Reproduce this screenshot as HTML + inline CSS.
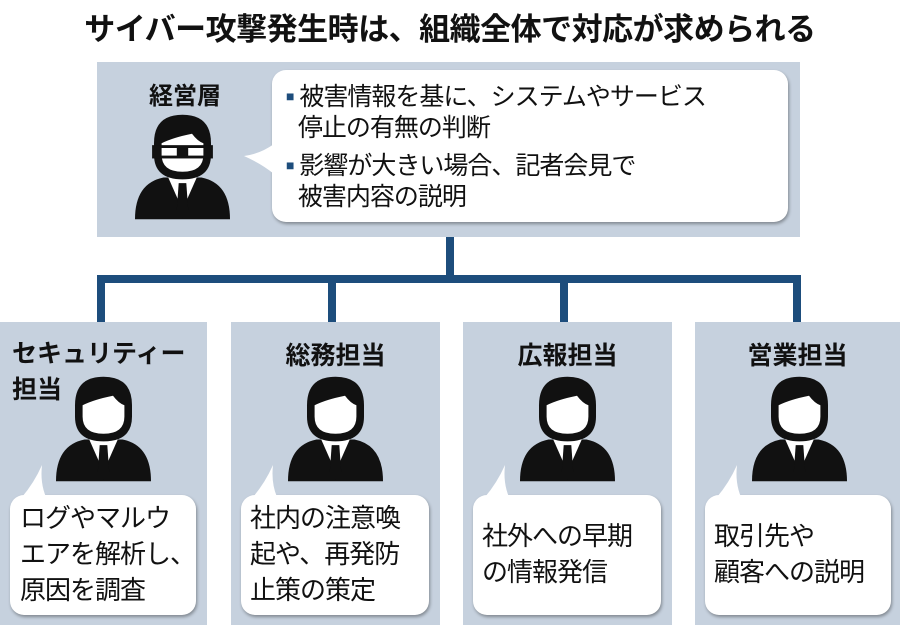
<!DOCTYPE html>
<html><head><meta charset="utf-8"><style>
*{margin:0;padding:0;box-sizing:border-box}
body{width:900px;height:625px;background:#fff;position:relative;overflow:hidden;font-family:"Liberation Sans","Noto Sans CJK JP",sans-serif;color:#111}
.abs{position:absolute}
.box{position:absolute;background:#c6d1de}
.title{left:0;width:900px;top:4px;text-align:center;font-size:31px;font-weight:bold;letter-spacing:-0.5px}
.lbl{position:absolute;font-size:24px;font-weight:bold;text-align:center}
.bub{position:absolute;background:#fff;border-radius:14px;box-shadow:1px 2px 3px rgba(0,0,0,.35)}
.bt{position:absolute;font-size:26px;line-height:36px;white-space:nowrap;letter-spacing:-1px}
.ln{position:absolute;background:#1d4d7c}
</style></head><body>
<svg width="0" height="0" style="position:absolute">
<defs>
<g id="p">
<path d="M0 110 Q0 72 30 66 L70 66 Q100 72 100 110 Z" fill="#111"/>
<path d="M35 66 L50 100 L65 66 Z" fill="#fff"/>
<path d="M46 72 L54 72 L56 100 L50 108 L44 100 Z" fill="#111"/>
<path d="M20 30 Q20 0 50 0 Q80 0 80 30 L80 42 Q80 68 50 68 Q20 68 20 42 Z" fill="#111"/>
<path d="M28 30 Q40 24 60 20 Q66 28 72 30 L72 42 Q72 60 50 60 Q28 60 28 42 Z" fill="#fff"/>
</g>
</defs></svg>
<div class="abs title">サイバー攻撃発生時は、組織全体で対応が求められる</div>

<div class="box" style="left:97px;top:62px;width:703px;height:175px"></div>
<div class="lbl" style="left:130px;top:76px;width:110px">経営層</div>
<svg class="abs" style="left:135px;top:112px" width="95" height="110" viewBox="0 0 100 110">
<path d="M0 110 Q0 72 30 66 L70 66 Q100 72 100 110 Z" fill="#111"/>
<path d="M35 66 L50 100 L65 66 Z" fill="#fff"/>
<path d="M46 72 L54 72 L56 100 L50 108 L44 100 Z" fill="#111"/>
<path d="M20 30 Q20 0 50 0 Q80 0 80 30 L80 42 Q80 68 50 68 Q20 68 20 42 Z" fill="#111"/>
<path d="M28 30 Q40 24 60 20 Q66 28 72 30 L72 42 Q72 60 50 60 Q28 60 28 42 Z" fill="#fff"/>
<rect x="18" y="32" width="64" height="14" fill="#111"/>
<rect x="28" y="35" width="16" height="8" fill="#fff"/><rect x="56" y="35" width="16" height="8" fill="#fff"/>
</svg>
<div class="bub" style="left:272px;top:70px;width:516px;height:152px"></div>
<svg class="abs" style="left:240px;top:140px" width="40" height="40"><path d="M34 4 Q20 14 4 16 Q22 24 34 34 Z" fill="#fff"/></svg>
<div class="bt" style="left:286px;top:81px;line-height:31px;font-size:25px"><span style="color:#1d4d7c;font-size:14px;vertical-align:4px">■</span> 被害情報を基に、システムやサービス<br>&nbsp;&nbsp;停止の有無の判断<br><span style="display:block;height:6px"></span><span style="color:#1d4d7c;font-size:14px;vertical-align:4px">■</span> 影響が大きい場合、記者会見で<br>&nbsp;&nbsp;被害内容の説明</div>

<div class="ln" style="left:446px;top:237px;width:8px;height:45px"></div>
<div class="ln" style="left:97px;top:275px;width:704px;height:8px"></div>
<div class="ln" style="left:97px;top:275px;width:8px;height:48px"></div>
<div class="ln" style="left:328px;top:275px;width:8px;height:48px"></div>
<div class="ln" style="left:560px;top:275px;width:8px;height:48px"></div>
<div class="ln" style="left:793px;top:275px;width:8px;height:48px"></div>

<div class="box" style="left:0;top:322px;width:207px;height:303px"></div>
<div class="box" style="left:231px;top:322px;width:209px;height:303px"></div>
<div class="box" style="left:463px;top:322px;width:209px;height:303px"></div>
<div class="box" style="left:695px;top:322px;width:205px;height:303px"></div>

<div class="lbl" style="left:12px;top:336px;text-align:left;line-height:36px;font-size:25px">セキュリティー<br>担当</div>
<div class="lbl" style="left:231px;top:336px;width:209px;font-size:25px">総務担当</div>
<div class="lbl" style="left:463px;top:336px;width:209px;font-size:25px">広報担当</div>
<div class="lbl" style="left:695px;top:336px;width:205px;font-size:25px">営業担当</div>

<svg class="abs" style="left:56px;top:374px" width="95" height="110" viewBox="0 0 100 110"><use href="#p"/></svg>
<svg class="abs" style="left:288px;top:374px" width="95" height="110" viewBox="0 0 100 110"><use href="#p"/></svg>
<svg class="abs" style="left:520px;top:374px" width="95" height="110" viewBox="0 0 100 110"><use href="#p"/></svg>
<svg class="abs" style="left:752px;top:374px" width="95" height="110" viewBox="0 0 100 110"><use href="#p"/></svg>

<div class="bub" style="left:10px;top:495px;width:186px;height:120px"></div>
<div class="bub" style="left:241px;top:495px;width:188px;height:120px"></div>
<div class="bub" style="left:473px;top:495px;width:188px;height:120px"></div>
<div class="bub" style="left:705px;top:495px;width:186px;height:120px"></div>
<svg class="abs" style="left:20px;top:465px" width="30" height="34"><path d="M22 0 Q14 18 2 32 L26 32 Q20 18 22 0Z" fill="#fff"/></svg>
<svg class="abs" style="left:251px;top:465px" width="30" height="34"><path d="M22 0 Q14 18 2 32 L26 32 Q20 18 22 0Z" fill="#fff"/></svg>
<svg class="abs" style="left:483px;top:465px" width="30" height="34"><path d="M22 0 Q14 18 2 32 L26 32 Q20 18 22 0Z" fill="#fff"/></svg>
<svg class="abs" style="left:715px;top:465px" width="30" height="34"><path d="M22 0 Q14 18 2 32 L26 32 Q20 18 22 0Z" fill="#fff"/></svg>

<div class="bt" style="left:20px;top:500px">ログやマルウ<br>エアを解析し、<br>原因を調査</div>
<div class="bt" style="left:250px;top:500px">社内の注意喚<br>起や、再発防<br>止策の策定</div>
<div class="bt" style="left:482px;top:518px">社外への早期<br>の情報発信</div>
<div class="bt" style="left:714px;top:518px">取引先や<br>顧客への説明</div>
</body></html>
